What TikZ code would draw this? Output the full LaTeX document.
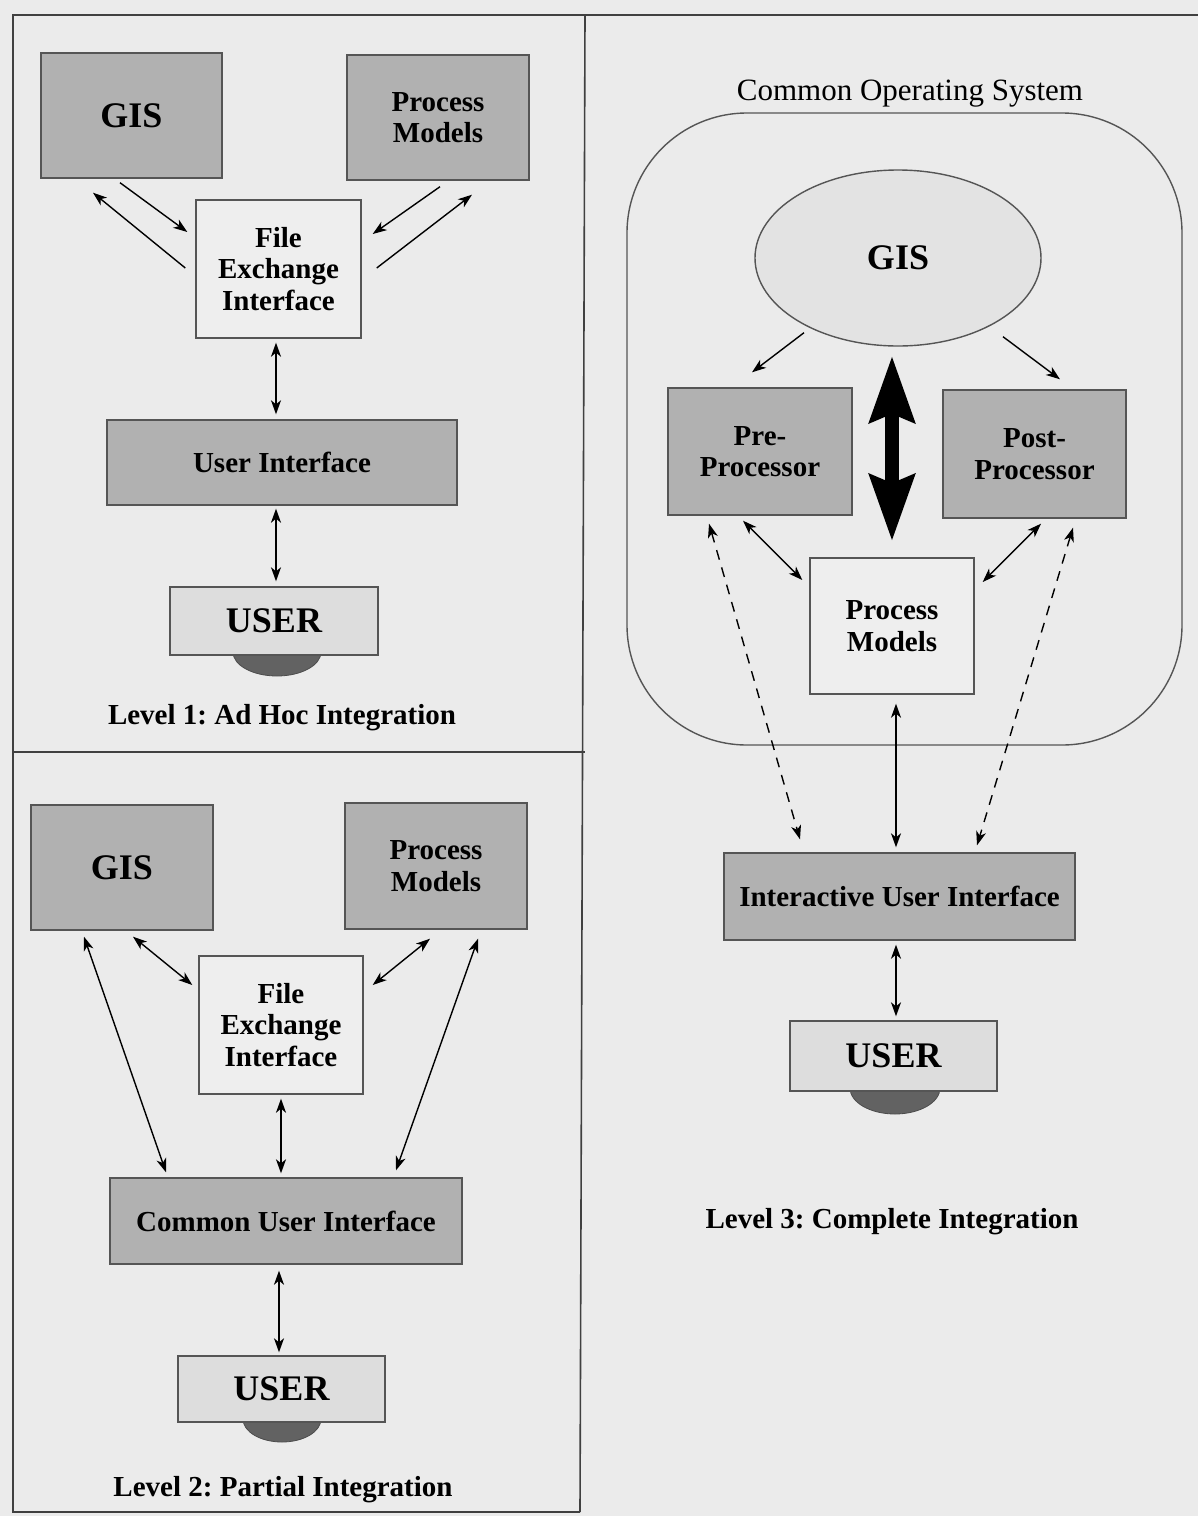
\documentclass[tikz,border=0pt]{standalone}
\usepackage{fontspec}
\setmainfont{Liberation Serif}
\frenchspacing
\usetikzlibrary{arrows.meta,calc,shapes.geometric}
\definecolor{bgc}{HTML}{EBEBEB}
\definecolor{darkbox}{HTML}{B1B1B1}
\definecolor{lightbox}{HTML}{EEEEEE}
\definecolor{userbox}{HTML}{DDDDDD}
\definecolor{ellfill}{HTML}{E3E3E3}
\definecolor{mousec}{HTML}{626262}
\definecolor{edge}{HTML}{555555}
\begin{document}
\begin{tikzpicture}[x=0.5pt,y=-0.5pt,
  sz/.style n args={2}{minimum width=#1*0.5pt,minimum height=#2*0.5pt},
  box/.style={rectangle,draw=edge,line width=0.7pt,align=center,inner sep=0pt},
  dbox/.style={box,fill=darkbox},
  lbox/.style={box,fill=lightbox},
  ubox/.style={box,fill=userbox,font=\fontsize{18}{20}\selectfont\bfseries},
  mid/.style={font=\fontsize{14.5}{15.7}\selectfont\bfseries},
  big/.style={font=\fontsize{18}{20}\selectfont\bfseries},
  ttl/.style={font=\fontsize{14.5}{16}\selectfont\bfseries},
  mouse/.style={ellipse,fill=mousec,draw=black!70,line width=0.4pt,inner sep=0pt},
  arr/.style={line width=0.7pt,-{Stealth[length=7pt,width=5pt,inset=2pt]}},
  darr/.style={line width=0.7pt,{Stealth[length=7pt,width=5pt,inset=2pt]}-{Stealth[length=7pt,width=5pt,inset=2pt]}},
  dash2/.style={darr,dash pattern=on 5pt off 4pt},
  frame/.style={line width=0.8pt,draw=black!75}
]
\useasboundingbox[fill=bgc] (0,0) rectangle (1198,1516);
% frame
\draw[frame] (1198,15) -- (13,15) -- (13,1512) -- (580,1512);
\draw[frame] (585,15) -- (580,1512);
\draw[frame] (13,752) -- (585,752);

% ---------------- Panel 1 ----------------
\node[dbox,big,sz={181}{125}] (gis1) at (131.5,115.5) {GIS};
\node[dbox,mid,sz={182}{125}] (pm1) at (438,117.5) {Process\\Models};
\node[lbox,mid,sz={165}{138}] (fei1) at (278.5,269) {File\\Exchange\\Interface};
\node[dbox,mid,sz={350}{85}] (ui1) at (282,462.5) {User Interface};
\node[mouse,sz={88}{48}] (m1) at (277,652) {};
\node[ubox,sz={208}{68}] (user1) at (274,621) {USER};
\node[ttl] (t1) at (282,718) {Level 1: Ad Hoc Integration};

\draw[arr] ($(gis1.south)+(-11.5,4)$) -- ($(fei1.west)+(-8,-37)$);
\draw[arr] ($(fei1.west)+(-10,-1)$) -- ($(gis1.south)+(-38.5,14)$);
\draw[arr] ($(pm1.south)+(2,6)$) -- ($(fei1.east)+(11,-35)$);
\draw[arr] ($(fei1.east)+(15,-1)$) -- ($(pm1.south)+(34,14)$);
\draw[darr] ($(fei1.south)+(-2.5,4)$) -- ($(ui1.north)+(-6,-5)$);
\draw[darr] ($(ui1.south)+(-6,3)$) -- ($(user1.north)+(2,-5)$);

% ---------------- Panel 2 ----------------
\node[dbox,big,sz={182}{125}] (gis2) at (122,867.5) {GIS};
\node[dbox,mid,sz={182}{126}] (pm2) at (436,866) {Process\\Models};
\node[lbox,mid,sz={164}{138}] (fei2) at (281,1025) {File\\Exchange\\Interface};
\node[dbox,mid,sz={352}{86}] (cui) at (286,1221) {Common User Interface};
\node[mouse,sz={78}{46}] (m2) at (282,1419) {};
\node[ubox,sz={207}{66}] (user2) at (281.5,1389) {USER};
\node[ttl] (t2) at (283,1490) {Level 2: Partial Integration};

\draw[darr] ($(gis2.south)+(11,6)$) -- ($(fei2.west)+(-6,-40)$);
\draw[darr] ($(pm2.south)+(-6,9)$) -- ($(fei2.east)+(9,-40)$);
\draw[darr] ($(gis2.south)+(-38,6)$) -- ($(cui.north)+(-120,-5)$);
\draw[darr] ($(pm2.south)+(42,9)$) -- ($(cui.north)+(110,-7)$);
\draw[darr] ($(fei2.south)+(0,4)$) -- ($(cui.north)+(-5,-4)$);
\draw[darr] ($(cui.south)+(-7,6)$) -- ($(user2.north)+(-2.5,-3)$);

% ---------------- Panel 3 ----------------
\node[font=\fontsize{15.5}{17}\selectfont] (cos) at (910,94) {Common Operating System};
\draw[line width=0.7pt,draw=edge,rounded corners=60pt] (627,113) rectangle (1182,745);
\node[ellipse,draw=edge,fill=ellfill,line width=0.7pt,big,sz={286}{176},inner sep=0pt] (gis3) at (898,258) {GIS};
\node[dbox,mid,sz={184}{127}] (pre) at (760,451.5) {Pre-\\Processor};
\node[dbox,mid,sz={183}{128}] (post) at (1034.5,454) {Post-\\Processor};
\node[lbox,mid,sz={164}{136}] (pm3) at (892,626) {Process\\Models};
\node[dbox,mid,sz={351}{87}] (iui) at (899.5,896.5) {Interactive User Interface};
\node[mouse,sz={90}{52}] (m3) at (895,1088) {};
\node[ubox,sz={207}{70}] (user3) at (893.5,1056) {USER};
\node[ttl] (t3) at (892,1222) {Level 3: Complete Integration};

\draw[arr] ($(gis3.south)+(-94,-14)$) -- ($(pre.north)+(-8,-15)$);
\draw[arr] ($(gis3.south)+(105,-10)$) -- ($(post.north)+(25.5,-10)$);
\draw[line width=7pt,{Stealth[length=33pt,width=22pt,inset=4pt]}-{Stealth[length=33pt,width=22pt,inset=4pt]}]
  ($(gis3.south)+(-6,9)$) -- ($(pm3.north)+(0,-16)$);
\draw[darr] ($(pre.south)+(-17,5)$) -- ($(pm3.west)+(-7,-46)$);
\draw[darr] ($(post.south)+(6.5,5)$) -- ($(pm3.east)+(8,-44)$);
\draw[dash2] ($(pre.south)+(-51,8)$) -- ($(iui.north)+(-99.5,-13)$);
\draw[dash2] ($(post.south)+(38.5,9)$) -- ($(iui.north)+(77.5,-7)$);
\draw[darr] ($(pm3.south)+(4,9)$) -- ($(iui.north)+(-3.5,-5)$);
\draw[darr] ($(iui.south)+(-3.5,4)$) -- ($(user3.north)+(2.5,-4)$);
\end{tikzpicture}
\end{document}
